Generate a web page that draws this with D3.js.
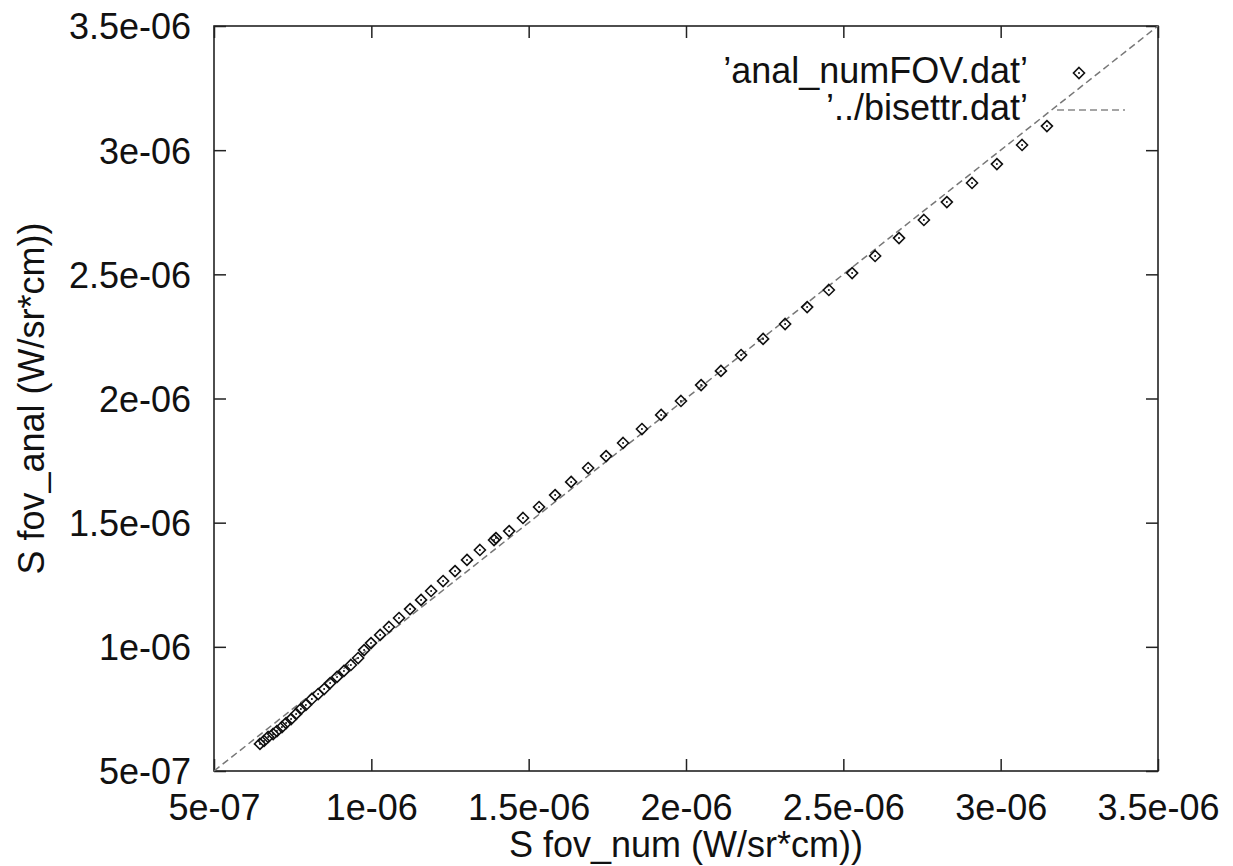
<!DOCTYPE html>
<html>
<head>
<meta charset="utf-8">
<script src="https://cdn.jsdelivr.net/npm/d3@7"></script>
<style>
  body { margin: 0; background: #fff; }
  text { font-family: "Liberation Sans", Arial, sans-serif; fill: #111; }
</style>
</head>
<body>
<svg id="chart"></svg>
<script>
var w = 1233;
var h = 866;
var margin = {top: 26, right: 75, bottom: 95, left: 214};

// numerical S_fov (x) vs analytical S_fov (y), W/sr*cm
var sNum = [6.46e-7, 6.59e-7, 6.72e-7, 6.88e-7, 7.00e-7, 7.16e-7, 7.29e-7, 7.45e-7, 7.61e-7, 7.76e-7,
  7.92e-7, 8.11e-7, 8.31e-7, 8.50e-7, 8.69e-7, 8.91e-7, 9.13e-7, 9.35e-7, 9.58e-7, 9.77e-7,
  9.99e-7, 1.028e-6, 1.056e-6, 1.088e-6, 1.123e-6, 1.158e-6, 1.190e-6, 1.228e-6, 1.266e-6, 1.304e-6,
  1.345e-6, 1.390e-6, 1.396e-6, 1.438e-6, 1.482e-6, 1.533e-6, 1.584e-6, 1.635e-6, 1.689e-6, 1.746e-6,
  1.800e-6, 1.860e-6, 1.921e-6, 1.984e-6, 2.048e-6, 2.111e-6, 2.175e-6, 2.245e-6, 2.315e-6, 2.385e-6,
  2.454e-6, 2.528e-6, 2.601e-6, 2.677e-6, 2.756e-6, 2.829e-6, 2.909e-6, 2.988e-6, 3.068e-6, 3.147e-6];
var sAnal = [6.09e-7, 6.21e-7, 6.37e-7, 6.49e-7, 6.61e-7, 6.77e-7, 6.93e-7, 7.09e-7, 7.30e-7, 7.50e-7,
  7.66e-7, 7.90e-7, 8.10e-7, 8.30e-7, 8.54e-7, 8.79e-7, 9.03e-7, 9.27e-7, 9.55e-7, 9.87e-7,
  1.015e-6, 1.048e-6, 1.080e-6, 1.116e-6, 1.152e-6, 1.189e-6, 1.225e-6, 1.265e-6, 1.305e-6, 1.350e-6,
  1.390e-6, 1.430e-6, 1.438e-6, 1.466e-6, 1.519e-6, 1.563e-6, 1.611e-6, 1.664e-6, 1.720e-6, 1.768e-6,
  1.821e-6, 1.877e-6, 1.934e-6, 1.990e-6, 2.054e-6, 2.111e-6, 2.175e-6, 2.240e-6, 2.300e-6, 2.368e-6,
  2.437e-6, 2.505e-6, 2.574e-6, 2.646e-6, 2.719e-6, 2.791e-6, 2.868e-6, 2.944e-6, 3.021e-6, 3.097e-6];

// bisector y = x
var bisX = [5e-7, 3.5e-6];
var bisY = [5e-7, 3.5e-6];

var tickVals = [5e-7, 1e-6, 1.5e-6, 2e-6, 2.5e-6, 3e-6, 3.5e-6];
var tickLabels = ['5e-07', '1e-06', '1.5e-06', '2e-06', '2.5e-06', '3e-06', '3.5e-06'];
var legendLabels = ['\u2019anal_numFOV.dat\u2019', '\u2019../bisettr.dat\u2019'];

var pw = w - margin.left - margin.right;
var ph = h - margin.top - margin.bottom;

var svg = d3.select('#chart').attr('width', w).attr('height', h);
var g = svg.append('g').attr('transform', 'translate(' + margin.left + ',' + margin.top + ')');

var x = d3.scaleLinear().domain([5e-7, 3.5e-6]).range([0, pw]);
var y = d3.scaleLinear().domain([5e-7, 3.5e-6]).range([ph, 0]);

function fmt(d) {
  return tickLabels[tickVals.indexOf(d)];
}

function styleAxis(sel) {
  sel.select('.domain').remove();
  sel.selectAll('line').attr('stroke', '#222').attr('stroke-width', 1.5);
  sel.selectAll('text').attr('font-size', '36px').attr('fill', '#111');
}

// bottom + top (mirror) ticks, pointing inward
g.append('g')
  .attr('transform', 'translate(0,' + ph + ')')
  .call(d3.axisBottom(x).tickValues(tickVals).tickFormat(fmt).tickSizeInner(-12).tickSizeOuter(0))
  .call(styleAxis)
  .selectAll('text').attr('y', 49).attr('dy', 0);

g.append('g')
  .call(d3.axisTop(x).tickValues(tickVals).tickFormat('').tickSizeInner(-12).tickSizeOuter(0))
  .call(styleAxis);

g.append('g')
  .call(d3.axisLeft(y).tickValues(tickVals).tickFormat(fmt).tickSizeInner(-12).tickSizeOuter(0))
  .call(styleAxis)
  .selectAll('text').attr('x', -23).attr('dy', '0.36em');

g.append('g')
  .attr('transform', 'translate(' + pw + ',0)')
  .call(d3.axisRight(y).tickValues(tickVals).tickFormat('').tickSizeInner(-12).tickSizeOuter(0))
  .call(styleAxis);

// frame
g.append('rect')
  .attr('width', pw)
  .attr('height', ph)
  .attr('fill', 'none')
  .attr('stroke', '#222')
  .attr('stroke-width', 1.6);

// dashed bisector
var line = d3.line()
  .x(function (d) { return x(d[0]); })
  .y(function (d) { return y(d[1]); });

g.append('path')
  .datum(d3.zip(bisX, bisY))
  .attr('d', line)
  .attr('fill', 'none')
  .attr('stroke', '#777')
  .attr('stroke-width', 1.5)
  .attr('stroke-dasharray', '7,4');

// diamond points with centre dot
var r = 5.5;
var diamond = 'M0,' + (-r) + 'L' + r + ',0L0,' + r + 'L' + (-r) + ',0Z';

var pts = g.selectAll('g.pt')
  .data(d3.zip(sNum, sAnal))
  .enter()
  .append('g')
  .attr('class', 'pt')
  .attr('transform', function (d) {
    return 'translate(' + x(d[0]) + ',' + y(d[1]) + ')';
  });

pts.append('path')
  .attr('d', diamond)
  .attr('fill', 'none')
  .attr('stroke', '#111')
  .attr('stroke-width', 1.6);

pts.append('circle')
  .attr('r', 1)
  .attr('fill', '#111');

// legend
var lg = svg.append('g');
lg.selectAll('text')
  .data(legendLabels)
  .enter()
  .append('text')
  .attr('x', 1028)
  .attr('y', function (d, i) { return 83 + i * 37; })
  .attr('text-anchor', 'end')
  .attr('font-size', '36px')
  .text(function (d) { return d; });

lg.append('path')
  .attr('d', diamond)
  .attr('transform', 'translate(1079,73)')
  .attr('fill', 'none')
  .attr('stroke', '#111')
  .attr('stroke-width', 1.6);
lg.append('circle')
  .attr('cx', 1079)
  .attr('cy', 73)
  .attr('r', 1)
  .attr('fill', '#111');

lg.append('line')
  .attr('x1', 1057)
  .attr('x2', 1125)
  .attr('y1', 110)
  .attr('y2', 110)
  .attr('stroke', '#888')
  .attr('stroke-width', 1.5)
  .attr('stroke-dasharray', '7,4');

// axis titles
svg.append('text')
  .attr('x', margin.left + pw / 2)
  .attr('y', 857)
  .attr('text-anchor', 'middle')
  .attr('font-size', '36px')
  .text('S fov_num (W/sr*cm))');

svg.append('text')
  .attr('transform', 'translate(44,' + (margin.top + ph / 2) + ') rotate(-90)')
  .attr('text-anchor', 'middle')
  .attr('font-size', '36px')
  .text('S fov_anal (W/sr*cm))');
</script>
</body>
</html>
